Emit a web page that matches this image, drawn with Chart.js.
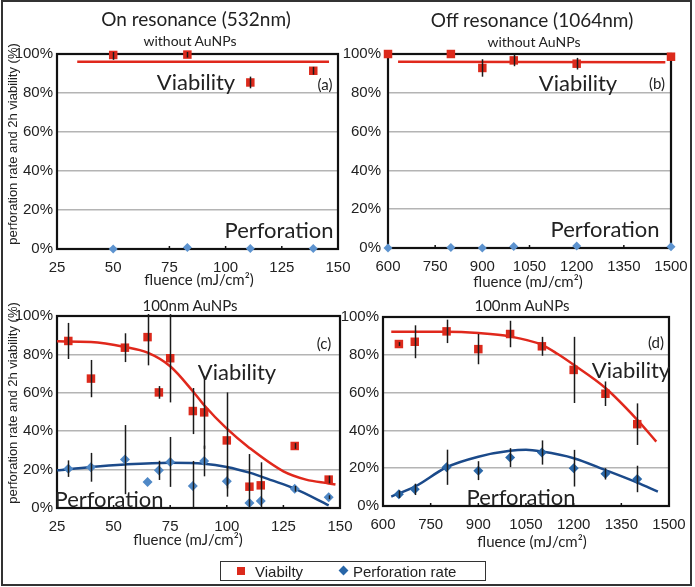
<!DOCTYPE html>
<html><head><meta charset="utf-8">
<script src="https://cdn.jsdelivr.net/npm/chart.js@4/dist/chart.umd.min.js"></script>
<style>
body{margin:0;width:695px;height:587px;position:relative;background:#fff;overflow:hidden;font-family:"Liberation Sans",Arial,sans-serif;color:#222;}
canvas{position:absolute;left:0;top:0;}
.frame{position:absolute;left:1px;top:0;width:691px;height:586px;border:2px solid #333;box-sizing:border-box;z-index:5;pointer-events:none;}
.t{position:absolute;white-space:nowrap;transform:translate(-50%,-50%);z-index:6;line-height:1;}
.m{font-family:Lato,"Open Sans",sans-serif;}
.yt{position:absolute;white-space:nowrap;transform:translate(-50%,-50%) rotate(-90deg);z-index:6;font-size:13px;line-height:1;}
.legend{position:absolute;left:220px;top:561px;width:266px;height:20px;border:1.5px solid #333;box-sizing:border-box;z-index:6;font-size:15px;}
.legend span{position:absolute;top:1px;}
.sq{position:absolute;left:16px;top:5px;width:8px;height:8px;background:#dc2a1c;}
.dm{position:absolute;left:119px;top:5px;width:7px;height:7px;background:#2866a8;transform:rotate(45deg);}
</style></head>
<body>
<canvas id="ca" width="695" height="587"></canvas>
<canvas id="cb" width="695" height="587"></canvas>
<canvas id="cc" width="695" height="587"></canvas>
<canvas id="cd" width="695" height="587"></canvas>
<div class="frame"></div>

<div class="t m" style="left:196px;top:18px;font-size:19px">On resonance (532nm)</div>
<div class="t m" style="left:532px;top:19px;font-size:19px">Off resonance (1064nm)</div>
<div class="t m" style="left:190px;top:41px;font-size:14px">without AuNPs</div>
<div class="t m" style="left:534px;top:42px;font-size:14px">without AuNPs</div>
<div class="t m" style="left:190px;top:305px;font-size:15px">100nm AuNPs</div>
<div class="t m" style="left:522px;top:305px;font-size:15px">100nm AuNPs</div>

<div class="t m" style="left:199px;top:279px;font-size:15px">fluence (mJ/cm²)</div>
<div class="t m" style="left:528px;top:281px;font-size:15px">fluence (mJ/cm²)</div>
<div class="t m" style="left:188px;top:539px;font-size:15px">fluence (mJ/cm²)</div>
<div class="t m" style="left:532px;top:541px;font-size:15px">fluence (mJ/cm²)</div>

<div class="yt" style="left:12px;top:144px">perforation rate and 2h viability (%)</div>
<div class="yt" style="left:12px;top:403px">perforation rate and 2h viability (%)</div>

<div class="t m" style="left:196px;top:82px;font-size:22px">Viability</div>
<div class="t m" style="left:325px;top:84px;font-size:15px">(a)</div>
<div class="t m" style="left:279px;top:230px;font-size:22px">Perforation</div>
<div class="t m" style="left:578px;top:83px;font-size:22px">Viability</div>
<div class="t m" style="left:657px;top:83px;font-size:15px">(b)</div>
<div class="t m" style="left:605px;top:229px;font-size:22px">Perforation</div>
<div class="t m" style="left:237px;top:372px;font-size:22px">Viability</div>
<div class="t m" style="left:324px;top:343px;font-size:15px">(c)</div>
<div class="t m" style="left:109px;top:499px;font-size:22px">Perforation</div>
<div class="t m" style="left:631px;top:370px;font-size:22px">Viability</div>
<div class="t m" style="left:656px;top:342px;font-size:15px">(d)</div>
<div class="t m" style="left:521px;top:497px;font-size:22px">Perforation</div>

<div class="legend"><div class="sq"></div><span style="left:34px">Viabilty</span><div class="dm"></div><span style="left:132px">Perforation rate</span></div>

<script>
// ---------- DATA ----------
// (a) on resonance 532 nm, without AuNPs
const fluenceA = [50, 83, 111, 139];
const viabA = [99.5, 99.7, 85.4, 91.4];
const viabErrA = [2.5, 1.5, 3, 2];
const perfA = [0, 0.8, 0.2, 0.3];
const perfErrA = [0, 0, 0, 0];
const fitViabXA = [34, 146];
const fitViabA = [96, 96];

// (b) off resonance 1064 nm, without AuNPs
const fluenceB = [600, 800, 900, 1000, 1200, 1500];
const viabB = [100, 100, 92.8, 96.7, 95, 98.6];
const viabErrB = [0, 0, 4.5, 3, 3, 0];
const perfB = [0, 0.3, 0, 0.8, 1, 0.7];
const perfErrB = [0, 0, 0, 0, 0, 0];
const fitViabXB = [632, 1482];
const fitViabB = [96, 95.8];

// (c) on resonance, 100nm AuNPs
const fluenceC = [30, 40, 55, 65, 70, 75, 85, 90, 100, 110, 115, 130, 145];
const viabC = [87, 67.4, 83.5, 89, 60.2, 78, 50.5, 49.8, 35.2, 11.1, 11.8, 32.3, 14.8];
const viabErrC = [9.4, 9.7, 7.5, 14.7, 3.3, 23, 12, 19, 25, 17, 12, 1.5, 2];
const perfC = [20.5, 21.2, 25.2, 13.5, 19.6, 24, 11.5, 24.5, 13.9, 2.6, 3.6, 10, 5.6];
const perfErrC = [4.3, 7.5, 18, 0, 5, 13, 13, 8, 8, 0, 0, 1.5, 1];
const fitViabXC = [25, 40, 55, 65, 75, 85, 90, 100, 110, 125, 135, 145, 148];
const fitViabC = [86.8, 86.5, 83.9, 80.9, 73.8, 60.8, 53.5, 41.3, 31.3, 19.1, 14.8, 12.8, 12.2];
const fitPerfXC = [25, 40, 55, 75, 90, 100, 110, 120, 130, 145];
const fitPerfC = [19.6, 21.4, 22.7, 23.6, 23.1, 21.4, 18.4, 14.4, 10.1, 1.4];

// (d) off resonance, 100nm AuNPs
const fluenceD = [650, 700, 800, 900, 1000, 1100, 1200, 1300, 1400];
const viabD = [85.7, 86.9, 92.4, 83, 91, 84.5, 72, 59.4, 43.3];
const viabErrD = [1, 8.7, 6.2, 8, 7, 5, 17.5, 6.5, 11];
const perfD = [6.2, 8.8, 20.5, 18.7, 25.6, 28.3, 20, 17, 14.3];
const perfErrD = [2, 3, 9.3, 5, 5, 6.4, 9.7, 3, 7];
const fitViabXD = [626, 700, 800, 900, 1000, 1100, 1150, 1200, 1300, 1400, 1460];
const fitViabD = [92.2, 92.2, 92.2, 91.5, 89.7, 85.3, 80.4, 74.7, 62.4, 45.6, 34.1];
const fitPerfXD = [626, 700, 800, 900, 1000, 1050, 1100, 1200, 1300, 1400, 1465];
const fitPerfD = [5, 10.2, 20.5, 26.1, 29.2, 29.7, 28.8, 25.3, 19, 12.4, 7.6];

const yTicks = [0, 20, 40, 60, 80, 100];

// ---------- RENDER ----------
const pts = (xs, ys) => xs.map((x, i) => ({x, y: ys[i]}));

const errorBars = {
  id: 'errorBars',
  afterDatasetsDraw(chart) {
    const {ctx, chartArea: a, scales: {x, y}} = chart;
    ctx.save();
    ctx.beginPath(); ctx.rect(a.left, a.top - 2, a.right - a.left, a.bottom - a.top + 2); ctx.clip();
    ctx.strokeStyle = '#1a1a1a'; ctx.lineWidth = 1.5;
    chart.data.datasets.forEach(ds => {
      if (!ds.errors) return;
      ds.data.forEach((p, i) => {
        const e = ds.errors[i]; if (!e) return;
        const px = Math.round(x.getPixelForValue(p.x)) + 0.5;
        ctx.beginPath();
        ctx.moveTo(px, y.getPixelForValue(p.y + e));
        ctx.lineTo(px, y.getPixelForValue(p.y - e));
        ctx.stroke();
      });
    });
    ctx.restore();
  }
};
const frame = {
  id: 'frame',
  beforeDatasetsDraw(chart) {
    const {ctx, chartArea: a} = chart;
    ctx.save(); ctx.strokeStyle = '#111'; ctx.lineWidth = 2.2;
    ctx.strokeRect(a.left, a.top, a.right - a.left, a.bottom - a.top);
    const x = chart.scales.x;
    ctx.lineWidth = 1.5;
    x.ticks.forEach(t => {
      const px = x.getPixelForValue(t.value);
      ctx.beginPath(); ctx.moveTo(px, a.bottom); ctx.lineTo(px, a.bottom - 3); ctx.stroke();
    });
    ctx.restore();
  }
};

function makePanel(id, area, xr, d, st) {
  const yW = 50, xH = 30;
  new Chart(document.getElementById(id), {
    type: 'scatter',
    data: {datasets: [
      {label: 'Viabilty', data: pts(d.fx, d.v), errors: d.ve, pointStyle: 'rect', pointRadius: st.sq, pointHoverRadius: st.sq,
        backgroundColor: '#dc2a1c', borderWidth: 0, order: 0, clip: false},
      {label: 'Perforation rate', data: pts(d.fx, d.p), errors: d.pe, pointStyle: 'rectRot', pointRadius: st.dm, pointHoverRadius: st.dm,
        backgroundColor: st.blue, borderWidth: 0, order: 0, clip: false},
      {label: 'fit viability', data: pts(d.fvx, d.fv), showLine: true, pointRadius: 0, borderColor: '#e0281c', borderWidth: 2.5,
        cubicInterpolationMode: 'monotone', order: 2},
      ...(d.fpx ? [{label: 'fit perforation', data: pts(d.fpx, d.fp), showLine: true, pointRadius: 0, borderColor: '#1b4a8a', borderWidth: 2.5,
        cubicInterpolationMode: 'monotone', order: 2}] : [])
    ]},
    options: {
      responsive: false, animation: false, events: [],
      layout: {padding: {left: area.l - yW, top: area.t, right: 695 - area.r, bottom: 587 - area.b - xH}},
      plugins: {legend: {display: false}, tooltip: {enabled: false}},
      scales: {
        x: {type: 'linear', min: xr[0], max: xr[1],
          ticks: {stepSize: xr[2], callback: v => String(v), color: '#222', font: {family: 'Liberation Sans', size: 15}, padding: 2, maxRotation: 0, autoSkip: false},
          grid: {display: false}, border: {display: false},
          afterFit: s => { s.height = xH; s.paddingLeft = 0; s.paddingRight = 0; }},
        y: {type: 'linear', min: 0, max: 100,
          afterBuildTicks: s => { s.ticks = yTicks.map(v => ({value: v})); },
          ticks: {callback: v => v + '%', color: '#222', font: {family: 'Liberation Sans', size: 15}, padding: st.ypad},
          grid: {drawTicks: false, lineWidth: 1.5, color: c => (c.tick && (c.tick.value === 0 || c.tick.value === 100)) ? 'rgba(0,0,0,0)' : '#b4b4b4'},
          border: {display: false},
          afterFit: s => { s.width = yW; s.paddingTop = 0; s.paddingBottom = 0; }}
      }
    },
    plugins: [frame, errorBars]
  });
}

makePanel('ca', {l: 57, r: 338, t: 54, b: 249}, [25, 150, 25],
  {fx: fluenceA, v: viabA, ve: viabErrA, p: perfA, pe: perfErrA, fvx: fitViabXA, fv: fitViabA},
  {sq: 6, dm: 4.5, blue: '#5d93cf', ypad: 4});
makePanel('cb', {l: 388, r: 671, t: 54, b: 248}, [600, 1500, 150],
  {fx: fluenceB, v: viabB, ve: viabErrB, p: perfB, pe: perfErrB, fvx: fitViabXB, fv: fitViabB},
  {sq: 6, dm: 4.5, blue: '#5d93cf', ypad: 7});
makePanel('cc', {l: 57, r: 340, t: 316, b: 508}, [25, 150, 25],
  {fx: fluenceC, v: viabC, ve: viabErrC, p: perfC, pe: perfErrC, fvx: fitViabXC, fv: fitViabC, fpx: fitPerfXC, fp: fitPerfC},
  {sq: 6, dm: 5, blue: '#4f88c6', ypad: 4});
makePanel('cd', {l: 383, r: 669, t: 317, b: 506}, [600, 1500, 150],
  {fx: fluenceD, v: viabD, ve: viabErrD, p: perfD, pe: perfErrD, fvx: fitViabXD, fv: fitViabD, fpx: fitPerfXD, fp: fitPerfD},
  {sq: 6, dm: 5, blue: '#2a67a8', ypad: 4});
</script>
</body></html>
